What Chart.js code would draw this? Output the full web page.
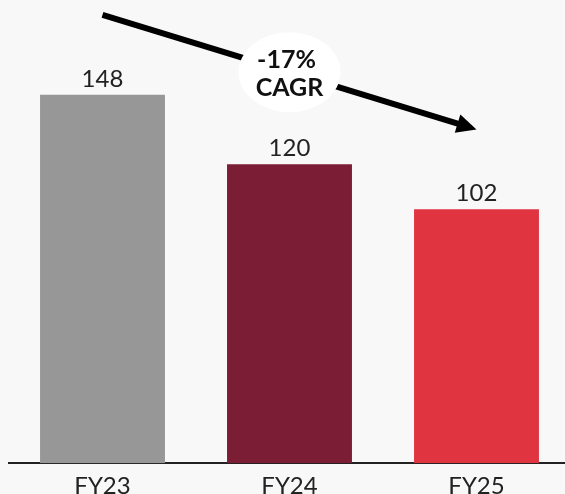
<!DOCTYPE html>
<html>
<head>
<meta charset="utf-8">
<script src="https://cdn.jsdelivr.net/npm/chart.js@4"></script>
<style>
  html, body { margin: 0; padding: 0; background: #f8f8f8; overflow: hidden; }
  #wrap { width: 565px; height: 494px; overflow: hidden; }
</style>
</head>
<body>
<div id="wrap">
  <canvas id="cagrChart" width="570" height="510"></canvas>
</div>

<script>
const years = ['FY23', 'FY24', 'FY25'];
const values = [148, 120, 102];
const barColors = ['#979797', '#7b1d34', '#e03540'];
const cagrText = ['-17%', 'CAGR'];

// value labels above bars + the CAGR arrow
const overlay = {
    id: 'overlay',
    afterDatasetsDraw(chart) {
        const ctx = chart.ctx;
        const meta = chart.getDatasetMeta(0);
        ctx.save();
        ctx.fillStyle = '#222';
        ctx.font = '24px Lato, sans-serif';
        ctx.textAlign = 'center';
        ctx.textBaseline = 'alphabetic';
        meta.data.forEach((bar, i) => {
            ctx.fillText(values[i], bar.x, bar.y - 8);
        });

        const xs = chart.scales.x, ys = chart.scales.y;
        const x1 = xs.getPixelForValue(0), y1 = ys.getPixelForValue(180);
        const x2 = xs.getPixelForValue(2), y2 = ys.getPixelForValue(134);
        const ang = Math.atan2(y2 - y1, x2 - x1);
        const head = 22;
        ctx.strokeStyle = '#000';
        ctx.lineWidth = 6;
        ctx.beginPath();
        ctx.moveTo(x1, y1);
        ctx.lineTo(x2 - Math.cos(ang) * (head - 4), y2 - Math.sin(ang) * (head - 4));
        ctx.stroke();
        ctx.fillStyle = '#000';
        ctx.beginPath();
        ctx.moveTo(x2, y2);
        ctx.lineTo(x2 - head * Math.cos(ang - 0.45), y2 - head * Math.sin(ang - 0.45));
        ctx.lineTo(x2 - head * Math.cos(ang + 0.45), y2 - head * Math.sin(ang + 0.45));
        ctx.closePath();
        ctx.fill();

        const cx = xs.getPixelForValue(1), cy = ys.getPixelForValue(157);
        ctx.fillStyle = '#ffffff';
        ctx.beginPath();
        ctx.ellipse(cx, cy, 51, 40, 0, 0, Math.PI * 2);
        ctx.fill();
        ctx.fillStyle = '#111';
        ctx.font = 'bold 25px Lato, sans-serif';
        ctx.textBaseline = 'middle';
        ctx.fillText(cagrText[0], cx - 3, cy - 12);
        ctx.fillText(cagrText[1], cx, cy + 16);
        ctx.restore();
    }
};

const ctx = document.getElementById('cagrChart').getContext('2d');
new Chart(ctx, {
    type: 'bar',
    data: {
        labels: years,
        datasets: [{
            data: values,
            backgroundColor: barColors,
            borderWidth: 0,
            categoryPercentage: 1,
            barPercentage: 0.668
        }]
    },
    options: {
        responsive: false,
        animation: false,
        layout: { padding: { left: 9, right: 0, top: 0, bottom: 0 } },
        plugins: {
            legend: { display: false },
            tooltip: { enabled: false }
        },
        scales: {
            y: { display: false, min: 0, max: 186 },
            x: {
                grid: { display: false, drawTicks: false },
                border: { display: true, color: '#222', width: 2 },
                ticks: {
                    color: '#222',
                    padding: 9,
                    font: { family: 'Lato', size: 24, weight: '400' }
                }
            }
        }
    },
    plugins: [overlay]
});
</script>
</body>
</html>
